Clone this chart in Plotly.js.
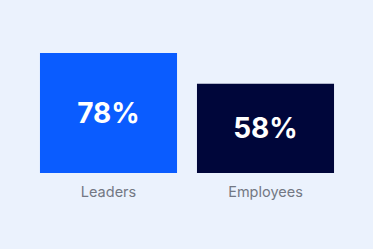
<!DOCTYPE html>
<html>
<head>
<meta charset="utf-8">
<script src="https://cdn.plot.ly/plotly-3.0.1.min.js"></script>
<style>
  html, body { margin: 0; padding: 0; background: #ebf2fd; }
  #chart { width: 373px; height: 249px; }
</style>
</head>
<body>
<div id="chart"></div>
<script>
// Share of respondents, by group
const categories = ["Leaders", "Employees"];
const shares = [78, 58];
const barColors = ["#0a5cff", "#00063a"];

const trace = {
  type: "bar",
  x: categories,
  y: shares,
  text: shares.map(v => v + "%"),
  textposition: "inside",
  insidetextanchor: "middle",
  textangle: 0,
  constraintext: "none",
  textfont: { family: "Inter, 'Open Sans', sans-serif", size: 28, color: "#ffffff", weight: 700 },
  marker: { color: barColors, line: { width: 0 } },
  hoverinfo: "none"
};

const layout = {
  width: 373,
  height: 249,
  margin: { l: 30, r: 29, t: 19, b: 76 },
  paper_bgcolor: "#ebf2fd",
  plot_bgcolor: "#ebf2fd",
  bargap: 0.127,
  showlegend: false,
  xaxis: {
    showgrid: false,
    zeroline: false,
    showline: false,
    ticks: "",
    ticklabelstandoff: 8,
    tickfont: { family: "Inter, 'Open Sans', sans-serif", size: 14.5, color: "#737884" }
  },
  yaxis: {
    range: [0, 100],
    visible: false,
    fixedrange: true
  }
};

Plotly.newPlot("chart", [trace], layout, { displayModeBar: false, staticPlot: true });
</script>
</body>
</html>
